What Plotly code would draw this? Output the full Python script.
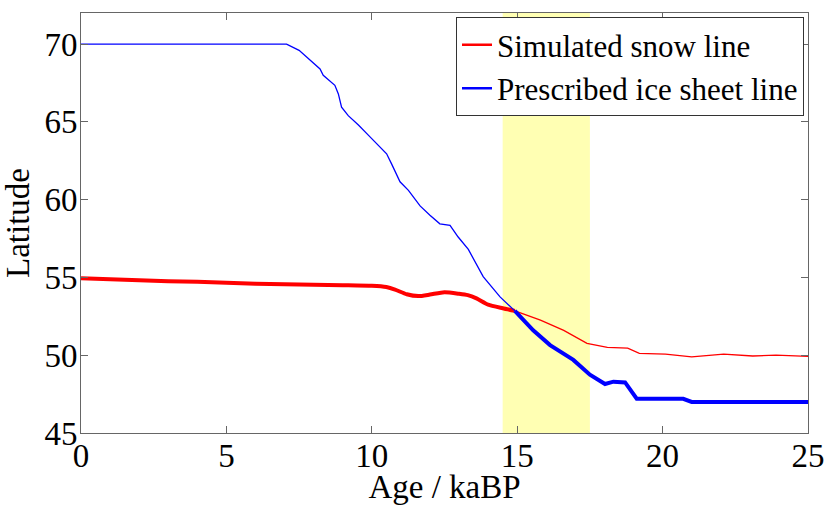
import plotly.graph_objects as go

# ---- data ----
age_red = [0, 1, 2, 3, 4, 5, 6, 7, 8, 9, 10, 10.5, 10.8, 11.2, 11.6, 12.0, 12.5, 13.0,
           13.3, 13.6, 14.0, 14.5, 14.92, 15.4, 15.8, 16.6, 17.4, 18.1, 18.8, 19.2,
           20.1, 21.0, 22.1, 23.1, 23.9, 25]
lat_red = [54.95, 54.88, 54.82, 54.75, 54.72, 54.66, 54.6, 54.57, 54.53, 54.5, 54.46,
           54.38, 54.22, 53.92, 53.8, 53.9, 54.05, 53.95, 53.86, 53.65, 53.25, 53.02,
           52.85, 52.5, 52.25, 51.6, 50.76, 50.5, 50.45, 50.12, 50.07, 49.9, 50.07,
           49.95, 50.0, 49.92]

age_blue = [0, 7.07, 7.5, 7.87, 8.22, 8.33, 8.73, 8.85, 8.96, 9.19, 9.54, 9.88, 10.22,
            10.51, 10.68, 10.97, 11.26, 11.66, 12.0, 12.34, 12.69, 12.97, 13.32, 13.83,
            14.41, 14.92, 15.55, 16.13, 16.93, 17.5, 18.02, 18.31, 18.71, 19.11, 20.71,
            21.0, 25]
lat_blue = [70, 70, 69.6, 69.0, 68.4, 68.0, 67.35, 66.8, 65.95, 65.4, 64.8, 64.15, 63.5,
            62.95, 62.3, 61.15, 60.6, 59.6, 59.0, 58.45, 58.35, 57.6, 56.8, 55.05, 53.75,
            52.85, 51.6, 50.65, 49.7, 48.75, 48.15, 48.3, 48.25, 47.2, 47.2, 47.0, 47.0]

split_age = 14.92          # where the two lines cross and swap thickness
band = [14.5, 17.5]        # highlighted period
x_ticks = [0, 5, 10, 15, 20, 25]
y_ticks = [45, 50, 55, 60, 65, 70]

RED = "#ff0000"
BLUE = "#0000ff"
FONT = "Liberation Serif, Times New Roman, serif"
FS = 33

ir = age_red.index(split_age)
ib = age_blue.index(split_age)

fig = go.Figure()
fig.add_trace(go.Scatter(x=age_red[:ir + 1], y=lat_red[:ir + 1], mode="lines",
                         line=dict(color=RED, width=4, shape="spline", smoothing=0.6),
                         showlegend=False, hoverinfo="skip"))
fig.add_trace(go.Scatter(x=age_red[ir:], y=lat_red[ir:], mode="lines",
                         line=dict(color=RED, width=1.3), showlegend=False, hoverinfo="skip"))
fig.add_trace(go.Scatter(x=age_blue[:ib + 1], y=lat_blue[:ib + 1], mode="lines",
                         line=dict(color=BLUE, width=1.3), showlegend=False, hoverinfo="skip"))
fig.add_trace(go.Scatter(x=age_blue[ib:], y=lat_blue[ib:], mode="lines",
                         line=dict(color=BLUE, width=4), showlegend=False, hoverinfo="skip"))
fig.add_trace(go.Scatter(x=[None], y=[None], mode="lines", name="Simulated snow line",
                         line=dict(color=RED, width=2.5)))
fig.add_trace(go.Scatter(x=[None], y=[None], mode="lines", name="Prescribed ice sheet line",
                         line=dict(color=BLUE, width=2.5)))

fig.add_shape(type="rect", xref="x", yref="paper", x0=band[0], x1=band[1], y0=0, y1=1,
              fillcolor="#ffffb3", line=dict(width=0), layer="below")

axis_common = dict(showgrid=False, zeroline=False, ticks="inside", ticklen=7,
                   tickcolor="#666666", linecolor="#666666", linewidth=1, mirror="ticks",
                   showline=True, tickfont=dict(family=FONT, size=FS, color="black"))

fig.update_layout(
    width=826, height=505,
    margin=dict(l=81, r=18, t=13, b=72, autoexpand=False),
    paper_bgcolor="white", plot_bgcolor="white",
    font=dict(family=FONT, size=FS, color="black"),
    xaxis=dict(range=[0, 25], tickvals=x_ticks, **axis_common, ticklabelstandoff=-7,
               title=dict(text="Age / kaBP", font=dict(family=FONT, size=FS), standoff=3)),
    yaxis=dict(range=[45, 72], tickvals=y_ticks, **axis_common, ticklabelstandoff=-4,
               title=dict(text="Latitude", font=dict(family=FONT, size=FS), standoff=9)),
    legend=dict(x=0.9945, y=0.99, xanchor="right", yanchor="top",
                bgcolor="white", bordercolor="#333333", borderwidth=1,
                font=dict(family=FONT, size=31), itemwidth=30, tracegroupgap=0),
)

fig.write_html("out.html")
